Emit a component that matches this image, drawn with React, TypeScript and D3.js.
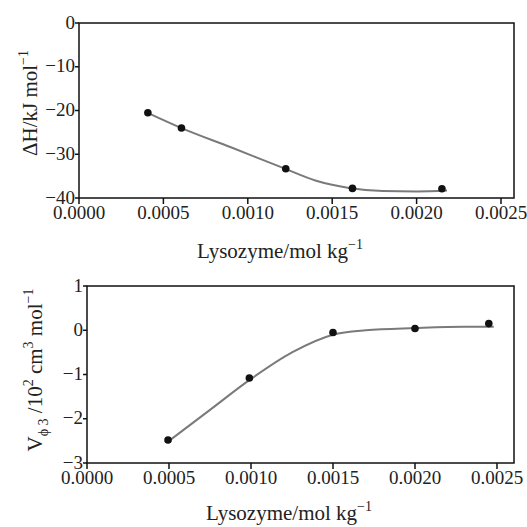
import React from "react";
import * as d3 from "d3";

// top panel: enthalpy
const dhX = [0.000408, 0.000607, 0.001225, 0.00162, 0.00215];
const dhY = [-20.5, -24.0, -33.3, -37.8, -37.9];
// fitted curve
const dhFitX = [0.00041, 0.0006, 0.0009, 0.00122, 0.0014, 0.0016, 0.0018, 0.002, 0.00218];
const dhFitY = [-20.6, -23.9, -28.4, -33.3, -36.0, -37.7, -38.4, -38.5, -38.3];
const dhTicks = [0, -10, -20, -30, -40];

// bottom panel: apparent molar volume
const vX = [0.000494, 0.00099, 0.0015, 0.002, 0.00245];
const vY = [-2.48, -1.08, -0.05, 0.04, 0.15];
const vFitX = [0.0005, 0.00075, 0.001, 0.00125, 0.0015, 0.0017, 0.002, 0.0023, 0.00248];
const vFitY = [-2.5, -1.8, -1.1, -0.5, -0.1, 0.0, 0.05, 0.08, 0.08];
const vTicks = [1, 0, -1, -2, -3];

const xTicks = [0, 0.0005, 0.001, 0.0015, 0.002, 0.0025];

const FONT = "Liberation Serif";
const INK = "#222";

type PanelProps = {
  left: number; right: number; top: number; bottom: number; xEnd: number;
  yDomain: [number, number]; yTicks: number[];
  px: number[]; py: number[]; fx: number[]; fy: number[];
  xLabelX: number; xLabelY: number; yLabelX: number; yLabelY: number;
  yLabel: React.ReactNode;
};

function Panel(p: PanelProps) {
  const x = d3.scaleLinear().domain([0, 0.0025]).range([p.left, p.xEnd]);
  const y = d3.scaleLinear().domain(p.yDomain).range([p.bottom, p.top]);
  const line = d3
    .line<number>()
    .x((d, i) => x(p.fx[i]))
    .y((d) => y(d))
    .curve(d3.curveMonotoneX);
  const fmt = d3.format(".4f");

  return (
    <g style={{ fontFamily: FONT }}>
      <rect
        x={p.left} y={p.top} width={p.right - p.left} height={p.bottom - p.top}
        fill="none" stroke="#111" strokeWidth={1.5}
      />
      {xTicks.map((t) => (
        <g key={t}>
          <line x1={x(t)} x2={x(t)} y1={p.bottom} y2={p.bottom + 6} stroke="#111" strokeWidth={1.5} />
          <text x={x(t)} y={p.bottom + 21} textAnchor="middle" fontSize={19} fill={INK} style={{ fontFamily: FONT }}>
            {fmt(t)}
          </text>
        </g>
      ))}
      {p.yTicks.map((t) => (
        <g key={t}>
          <line x1={p.left - 4} x2={p.left} y1={y(t)} y2={y(t)} stroke="#111" strokeWidth={1.5} />
          <text x={p.left - 4} y={y(t) + 5.5} textAnchor="end" fontSize={19} fill={INK} style={{ fontFamily: FONT }}>
            {String(t).replace("-", "\u2212")}
          </text>
        </g>
      ))}
      <path d={line(p.fy) || ""} fill="none" stroke="#7a7a7a" strokeWidth={2} />
      {p.py.map((d, i) => (
        <circle key={i} cx={x(p.px[i])} cy={y(d)} r={3.8} fill="#111" />
      ))}
      <text x={p.xLabelX} y={p.xLabelY} textAnchor="middle" fontSize={21} fill={INK} style={{ fontFamily: FONT }}>
        <tspan>Lysozyme/mol kg</tspan>
        <tspan dy={-9} fontSize={14}>{"\u22121"}</tspan>
      </text>
      <text
        transform={`translate(${p.yLabelX},${p.yLabelY}) rotate(-90)`}
        textAnchor="middle" fontSize={21} fill={INK} style={{ fontFamily: FONT }}
      >
        {p.yLabel}
      </text>
    </g>
  );
}

export default function App() {
  return (
    <svg width="527" height="527" style={{ position: "absolute", left: 0, top: 0, background: "white" }}>
      <Panel
        left={79} right={514} top={23} bottom={198} xEnd={501}
        yDomain={[-40, 0]} yTicks={dhTicks}
        px={dhX} py={dhY} fx={dhFitX} fy={dhFitY}
        xLabelX={280} xLabelY={258} yLabelX={37} yLabelY={103}
        yLabel={
          <>
            <tspan>{"\u0394H/kJ mol"}</tspan>
            <tspan dy={-9} fontSize={14}>{"\u22121"}</tspan>
          </>
        }
      />
      <Panel
        left={87} right={514} top={286} bottom={463} xEnd={497}
        yDomain={[-3, 1]} yTicks={vTicks}
        px={vX} py={vY} fx={vFitX} fy={vFitY}
        xLabelX={289} xLabelY={520} yLabelX={42} yLabelY={370}
        yLabel={
          <>
            <tspan>V</tspan>
            <tspan dy={6} fontSize={14}>{"\u03d5 3"}</tspan>
            <tspan dy={-6}>{" /10"}</tspan>
            <tspan dy={-9} fontSize={14}>2</tspan>
            <tspan dy={9}>{" cm"}</tspan>
            <tspan dy={-9} fontSize={14}>3</tspan>
            <tspan dy={9}>{" mol"}</tspan>
            <tspan dy={-9} fontSize={14}>{"\u22121"}</tspan>
          </>
        }
      />
    </svg>
  );
}
